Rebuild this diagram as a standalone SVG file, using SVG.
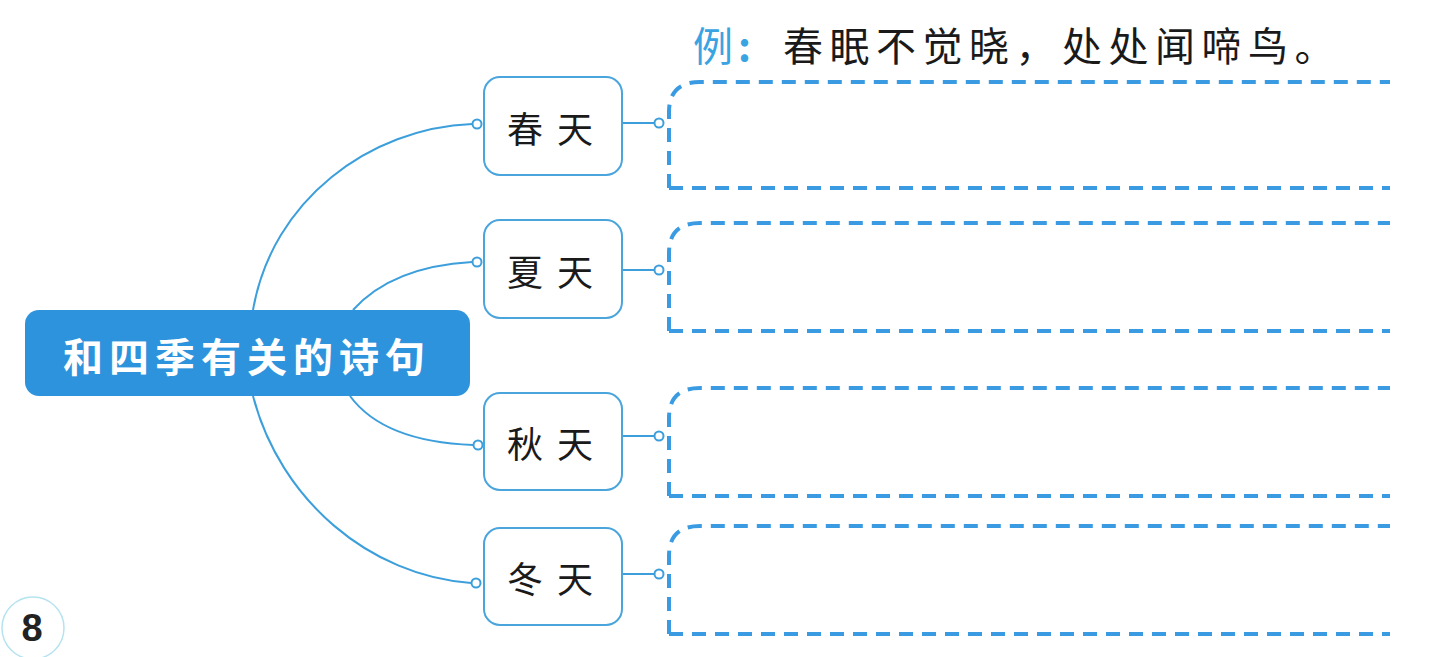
<svg xmlns="http://www.w3.org/2000/svg" width="1429" height="657" viewBox="0 0 1429 657">
<style>
.bg{fill:#ffffff}
.box{fill:#ffffff;stroke:#4aa5dc;stroke-width:2}
.lbl{font-family:"Noto Sans CJK SC","Noto Sans",sans-serif;font-size:36px;fill:#1a1a1a;text-anchor:middle;dominant-baseline:central;letter-spacing:14px}
.conn{fill:none;stroke:#3c9fdc;stroke-width:2}
.dot{fill:#ffffff;stroke:#3c9fdc;stroke-width:2}
.dash{fill:none;stroke:#3a9be2;stroke-width:4;stroke-dasharray:14 9}
.main{font-family:"Noto Sans CJK SC","Noto Sans",sans-serif;font-size:40px;font-weight:bold;fill:#ffffff;dominant-baseline:central;letter-spacing:6px}
.ex{font-family:"Noto Sans CJK SC","Noto Sans",sans-serif;font-size:40px;dominant-baseline:central}
</style>
<rect class="bg" x="0" y="0" width="1429" height="657"/>

<g id="connectors">
  <path class="conn" d="M253,310 C272,200 370,128 472,124"/>
  <path class="conn" d="M353,310 C380,280 420,265 472,262"/>
  <path class="conn" d="M350,396 C375,430 420,443 473,445"/>
  <path class="conn" d="M253,396 C280,500 370,576 471,583"/>
  <line class="conn" x1="622" y1="123" x2="655" y2="123"/>
  <line class="conn" x1="622" y1="270" x2="655" y2="270"/>
  <line class="conn" x1="622" y1="436" x2="655" y2="436"/>
  <line class="conn" x1="622" y1="574" x2="655" y2="574"/>
  <circle class="dot" cx="477" cy="124" r="4.5"/>
  <circle class="dot" cx="477" cy="262" r="4.5"/>
  <circle class="dot" cx="478" cy="445" r="4.5"/>
  <circle class="dot" cx="476" cy="583" r="4.5"/>
  <circle class="dot" cx="659" cy="123" r="4.5"/>
  <circle class="dot" cx="659" cy="270" r="4.5"/>
  <circle class="dot" cx="659" cy="436" r="4.5"/>
  <circle class="dot" cx="659" cy="574" r="4.5"/>
</g>

<g id="center">
  <rect x="25" y="310" width="445" height="86" rx="14" fill="#2d93dd"/>
  <text class="main" x="63" y="355">和四季有关的诗句</text>
</g>

<g id="spring">
  <rect class="box" x="484" y="77" width="138" height="98" rx="16"/>
  <text class="lbl" x="557" y="127">春天</text>
</g>
<g id="summer">
  <rect class="box" x="484" y="220" width="138" height="98" rx="16"/>
  <text class="lbl" x="557" y="270">夏天</text>
</g>
<g id="autumn">
  <rect class="box" x="484" y="393" width="138" height="97" rx="16"/>
  <text class="lbl" x="557" y="442">秋天</text>
</g>
<g id="winter">
  <rect class="box" x="484" y="528" width="138" height="97" rx="16"/>
  <text class="lbl" x="557" y="577">冬天</text>
</g>

<g id="answer-spring">
  <path class="dash" d="M669,188 L669,112 Q669,82 700,82 L1390,82"/>
  <path class="dash" d="M669,188 L1390,188"/>
</g>
<g id="answer-summer">
  <path class="dash" d="M669,331 L669,253 Q669,223 700,223 L1390,223"/>
  <path class="dash" d="M669,331 L1390,331"/>
</g>
<g id="answer-autumn">
  <path class="dash" d="M669,496 L669,418 Q669,388 700,388 L1390,388"/>
  <path class="dash" d="M669,496 L1390,496"/>
</g>
<g id="answer-winter">
  <path class="dash" d="M669,634 L669,556 Q669,526 700,526 L1390,526"/>
  <path class="dash" d="M669,634 L1390,634"/>
</g>

<g id="example">
  <text class="ex" x="693" y="44" fill="#3aa3e2">例</text>
  <text class="ex" x="738" y="44" fill="#3aa3e2" font-weight="bold">:</text>
  <text class="ex" x="783" y="44" fill="#1a1a1a" letter-spacing="6.5">春眠不觉晓，处处闻啼鸟。</text>
</g>

<g id="page">
  <circle cx="33" cy="628" r="31" fill="none" stroke="#b5e3ef" stroke-width="1.5"/>
  <text x="32" y="628" font-family="'Liberation Sans',sans-serif" font-size="38" font-weight="bold" fill="#222222" text-anchor="middle" dominant-baseline="central">8</text>
</g>
</svg>
